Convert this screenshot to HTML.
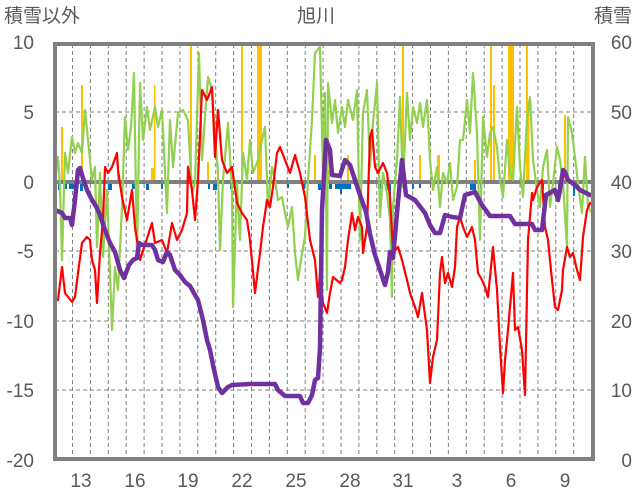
<!DOCTYPE html>
<html><head><meta charset="utf-8"><style>
html,body{margin:0;padding:0;background:#fff}
svg{display:block}
text{font-family:"Liberation Sans","Noto Sans CJK JP",sans-serif;fill:#595959;font-size:19px}
</style></head><body>
<svg width="636" height="501" viewBox="0 0 636 501">
<g stroke="#7f7f7f" stroke-width="1" stroke-dasharray="4,3">
<line x1="55" y1="112" x2="593" y2="112"/><line x1="55" y1="251" x2="593" y2="251"/>
<line x1="55" y1="321" x2="593" y2="321"/><line x1="55" y1="390" x2="593" y2="390"/>
<g id="vg">
<line x1="72.5" y1="44" x2="72.5" y2="459"/><line x1="90.4" y1="44" x2="90.4" y2="459"/><line x1="108.3" y1="44" x2="108.3" y2="459"/><line x1="126.2" y1="44" x2="126.2" y2="459"/><line x1="144.1" y1="44" x2="144.1" y2="459"/><line x1="162" y1="44" x2="162" y2="459"/><line x1="179.9" y1="44" x2="179.9" y2="459"/><line x1="197.8" y1="44" x2="197.8" y2="459"/><line x1="215.7" y1="44" x2="215.7" y2="459"/><line x1="233.6" y1="44" x2="233.6" y2="459"/><line x1="251.5" y1="44" x2="251.5" y2="459"/><line x1="269.4" y1="44" x2="269.4" y2="459"/><line x1="287.3" y1="44" x2="287.3" y2="459"/><line x1="305.2" y1="44" x2="305.2" y2="459"/><line x1="323.1" y1="44" x2="323.1" y2="459"/><line x1="341" y1="44" x2="341" y2="459"/><line x1="358.9" y1="44" x2="358.9" y2="459"/><line x1="376.8" y1="44" x2="376.8" y2="459"/><line x1="394.7" y1="44" x2="394.7" y2="459"/><line x1="412.6" y1="44" x2="412.6" y2="459"/><line x1="430.5" y1="44" x2="430.5" y2="459"/><line x1="448.4" y1="44" x2="448.4" y2="459"/><line x1="466.3" y1="44" x2="466.3" y2="459"/><line x1="484.2" y1="44" x2="484.2" y2="459"/><line x1="502.1" y1="44" x2="502.1" y2="459"/><line x1="520" y1="44" x2="520" y2="459"/><line x1="537.9" y1="44" x2="537.9" y2="459"/><line x1="555.8" y1="44" x2="555.8" y2="459"/><line x1="573.7" y1="44" x2="573.7" y2="459"/>
</g></g>
<!-- yellow bars -->
<g fill="#ffc000">
<rect x="61" y="127" width="2" height="55"/><rect x="81" y="85" width="2" height="97"/><rect x="117" y="168" width="2" height="14"/><rect x="151" y="168" width="4" height="14"/><rect x="154" y="85" width="1.5" height="97"/><rect x="187" y="165" width="2" height="17"/><rect x="190" y="43" width="2" height="139"/><rect x="207" y="162" width="2" height="20"/><rect x="241" y="43" width="2" height="139"/><rect x="257" y="43" width="5" height="139"/><rect x="314" y="155" width="2" height="27"/>
<rect x="327" y="170" width="3" height="12"/><rect x="347" y="155" width="2" height="27"/><rect x="402" y="43" width="2" height="139"/><rect x="419" y="155" width="2" height="27"/><rect x="437" y="155" width="3" height="27"/><rect x="474" y="160" width="2" height="22"/><rect x="490" y="43" width="2" height="139"/><rect x="493" y="85" width="2" height="97"/><rect x="508" y="43" width="6" height="139"/><rect x="526" y="43" width="2" height="139"/><rect x="528" y="100" width="1.5" height="82"/><rect x="564" y="115" width="2" height="67"/>
</g>
<!-- blue bars -->
<g fill="#0070c0">
<rect x="58" y="182" width="3" height="8"/><rect x="64" y="182" width="3" height="7"/><rect x="69" y="182" width="8" height="7"/><rect x="80" y="182" width="3" height="9"/><rect x="108" y="182" width="4" height="8"/><rect x="132" y="182" width="3" height="7"/><rect x="146" y="182" width="3" height="8"/><rect x="161" y="182" width="2" height="7"/><rect x="165" y="182" width="3" height="8"/><rect x="208" y="182" width="2" height="7"/><rect x="213" y="182" width="4" height="8"/><rect x="230" y="182" width="2" height="7"/><rect x="287" y="182" width="2" height="6"/><rect x="302" y="182" width="3" height="7"/><rect x="318" y="182" width="3" height="8"/>
<rect x="329" y="182" width="3" height="7"/><rect x="335" y="182" width="16" height="7"/><rect x="340" y="188" width="2" height="6"/><rect x="378" y="182" width="3" height="7"/><rect x="385" y="182" width="4" height="8"/><rect x="389" y="182" width="2" height="16"/><rect x="412" y="182" width="2" height="7"/><rect x="419" y="182" width="2" height="6"/><rect x="470" y="182" width="6" height="8"/><rect x="480" y="182" width="2" height="7"/><rect x="542" y="182" width="2" height="7"/><rect x="558" y="182" width="2" height="7"/><rect x="573" y="182" width="2" height="14"/>
</g>
<line x1="55" y1="182" x2="593" y2="182" stroke="#808080" stroke-width="4"/>
<!-- green -->
<polyline fill="none" stroke="#92d050" stroke-width="2.2" stroke-linejoin="round" points="55,180 58,157 60,187 62,260 65,153 68,173 72,137 75,153 78,143 82,153 85,110 88,140 92,180 95,167 97,247 100,173 103,257 107,190 110,273 112,330 115,267 118,290 122,207 125,117 128,150 131,127 134,73 137,257 140,83 143,140 147,107 150,130 155,107 158,127 162,110 167,213 170,120 173,167 178,113 183,110 188,120 192,193 195,183 199,53 202,160 205,117 208,77 212,90 215,133 218,173 220,250 223,180 228,123 232,190 233,307 237,183 240,240 243,153 247,180 250,140 253,173 258,160 262,140 265,127 268,207 272,167 275,180 278,200 282,197 285,213 288,227 292,207 295,253 298,280 302,253 305,237 308,180 312,120 315,53 320,47 323,173 325,93 327,290 328,83 332,123 335,100 338,133 342,107 345,127 348,100 353,120 357,90 360,240 363,113 367,90 370,167 373,123 377,83 380,217 383,173 387,193 390,220 392,297 393,207 397,160 400,97 403,187 407,93 410,140 413,107 417,123 420,103 423,127 427,100 430,160 433,190 437,167 440,207 443,173 447,183 450,163 453,200 457,187 460,140 463,140 467,100 470,133 473,73 477,133 480,240 483,117 487,157 490,133 493,127 497,147 500,180 503,197 507,140 510,173 513,180 517,107 520,167 523,197 527,117 530,97 533,160 537,190 540,207 543,167 547,150 550,207 553,183 557,147 560,160 563,183 567,247 568,117 572,133 575,157 578,183 582,213 585,157 588,207 592,213"/>
<!-- red -->
<polyline fill="none" stroke="#ff0000" stroke-width="2.2" stroke-linejoin="round" points="55,300 58,300 62,267 65,293 72,302 75,297 78,273 82,243 87,237 90,240 92,260 95,270 97,303 100,253 103,220 105,167 108,173 112,167 117,153 118,170 122,197 127,220 132,190 135,227 140,260 152,223 155,243 162,240 167,253 172,223 177,240 182,230 187,213 188,167 192,190 195,220 198,180 202,90 207,100 212,87 215,157 218,110 222,160 227,173 232,167 237,203 242,213 247,220 250,240 255,293 260,253 263,227 267,200 270,207 273,187 277,153 280,147 285,160 290,173 295,155 300,173 305,197 310,240 315,260 318,297 320,273 323,303 327,313 330,293 333,277 340,283 342,280 345,267 348,240 352,213 355,230 358,217 362,227 363,253 367,227 370,137 372,130 375,167 378,173 383,163 387,173 390,197 393,253 398,247 402,260 407,280 410,293 415,307 418,317 422,293 427,330 430,383 433,357 437,340 440,273 442,257 445,283 448,273 452,287 455,267 457,227 460,217 463,227 467,237 472,227 475,240 478,273 482,280 485,287 488,297 493,247 497,290 500,347 503,393 505,360 508,330 513,273 515,330 518,327 522,350 525,395 528,240 532,193 533,200 537,187 542,180 545,227 548,240 552,280 555,307 558,310 562,290 563,270 567,247 570,257 573,253 577,270 580,280 583,237 587,210 590,203 593,205"/>
<!-- purple -->
<polyline fill="none" stroke="#7030a0" stroke-width="4.5" stroke-linejoin="round" points="55,210 62,213 65,218 70,218 72,225 75,200 78,170 80,168 83,178 87,190 92,200 97,208 100,215 105,230 110,243 115,252 120,270 124,278 129,265 133,260 137,258 139,243 142,245 152,245 155,250 158,260 163,262 167,252 170,255 175,270 180,275 185,282 190,286 195,295 198,300 203,320 207,340 210,350 213,365 218,387 222,393 225,390 228,387 232,385 250,384 275,384 278,390 285,396 300,396 303,403 308,403 312,395 315,380 318,378 320,348 322,210 326,140 330,150 332,175 340,176 345,160 350,165 355,180 360,195 366,212 370,234 375,255 380,270 385,285 388,272 390,252 393,258 398,202 402,160 406,195 415,200 425,213 430,225 435,233 440,233 445,215 452,217 460,218 465,195 475,192 482,205 490,216 510,216 515,224 532,224 535,230 542,230 546,195 555,190 558,200 560,190 563,170 565,172 568,180 575,185 580,190 590,195 593,195"/>
<rect x="55" y="44" width="538" height="415" fill="none" stroke="#808080" stroke-width="4"/>
<text x="4" y="22">積雪以外</text>
<text x="316" y="22" text-anchor="middle">旭川</text>
<text x="632" y="22" text-anchor="end">積雪</text>
<g text-anchor="end">
<text x="34" y="49">10</text><text x="34" y="119">5</text><text x="34" y="189">0</text><text x="34" y="258">-5</text><text x="34" y="328">-10</text><text x="34" y="397">-15</text><text x="34" y="467">-20</text>
<text x="632" y="49">60</text><text x="632" y="119">50</text><text x="632" y="189">40</text><text x="632" y="258">30</text><text x="632" y="328">20</text><text x="632" y="397">10</text><text x="632" y="467">0</text>
</g>
<g text-anchor="middle">
<text x="81" y="487">13</text><text x="135" y="487">16</text><text x="188" y="487">19</text><text x="242" y="487">22</text><text x="296" y="487">25</text><text x="350" y="487">28</text><text x="403" y="487">31</text><text x="457" y="487">3</text><text x="511" y="487">6</text><text x="565" y="487">9</text>
</g>
</svg>
</body></html>
